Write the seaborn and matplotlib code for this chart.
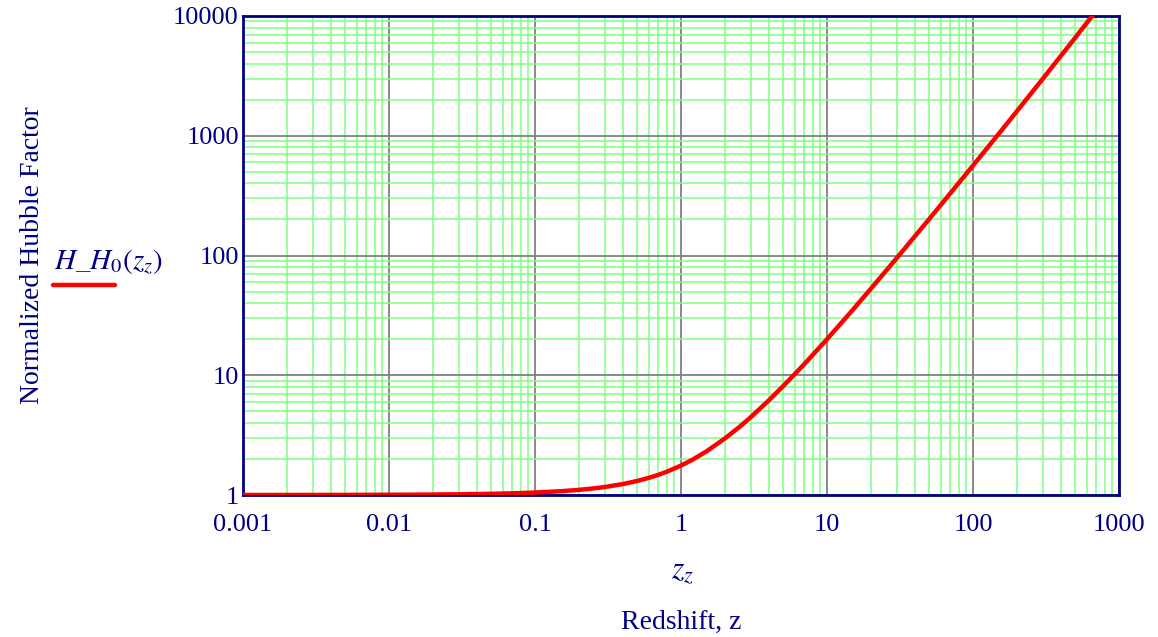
import numpy as np
import pandas as pd
import matplotlib
matplotlib.use("Agg")
import matplotlib.pyplot as plt
import matplotlib.ticker as mticker
from matplotlib.lines import Line2D
import seaborn as sns

# Data (redshift z vs normalized Hubble factor H/H0)
z_vals = [0.001, 0.002, 0.003, 0.005, 0.007, 0.01, 0.015, 0.02, 0.03, 0.05, 0.07,
          0.1, 0.15, 0.2, 0.25, 0.3, 0.4, 0.5, 0.6, 0.7, 0.8, 1.0, 1.2, 1.5, 2.0,
          2.5, 3.0, 4.0, 5.0, 6.0, 7.0, 8.0, 10.0, 15.0, 20.0, 30.0, 50.0, 70.0,
          100.0, 150.0, 200.0, 300.0, 500.0, 700.0]
h_vals = [1.00045, 1.0009, 1.00135, 1.00225, 1.00315, 1.0045, 1.0068, 1.0091,
          1.0137, 1.0231, 1.0327, 1.0485, 1.0752, 1.104, 1.134, 1.166, 1.234,
          1.309, 1.389, 1.474, 1.565, 1.761, 1.973, 2.32, 2.97, 3.68, 4.46, 6.18,
          8.10, 10.19, 12.43, 14.83, 20.0, 35.1, 52.9, 95.0, 200.9, 331.0, 564.0,
          1037.0, 1604.0, 2979.0, 6560.0, 11100.0]
x_ticks = [0.001, 0.01, 0.1, 1, 10, 100, 1000]
x_tick_labels = ["0.001", "0.01", "0.1", "1", "10", "100", "1000"]
y_ticks = [1, 10, 100, 1000, 10000]
y_tick_labels = ["1", "10", "100", "1000", "10000"]

df = pd.DataFrame({"z": z_vals, "H": h_vals})

sns.set_style("white")
plt.rcParams["font.family"] = ["Liberation Serif", "DejaVu Serif"]
plt.rcParams["mathtext.fontset"] = "stix"

navy = "#000080"
fig = plt.figure(figsize=(11.58, 6.37), dpi=100)
ax = fig.add_axes([243 / 1158, 1 - 495 / 637, (1119 - 243) / 1158, (495 - 16) / 637])

sns.lineplot(data=df, x="z", y="H", ax=ax, color="#ff0000", linewidth=3.2, zorder=5)

ax.set_xscale("log")
ax.set_yscale("log")
ax.set_xlim(0.001, 1000)
ax.set_ylim(1, 10000)

ax.xaxis.set_major_locator(mticker.FixedLocator(x_ticks))
ax.xaxis.set_major_formatter(mticker.FixedFormatter(x_tick_labels))
ax.yaxis.set_major_locator(mticker.FixedLocator(y_ticks))
ax.yaxis.set_major_formatter(mticker.FixedFormatter(y_tick_labels))
ax.xaxis.set_minor_locator(mticker.LogLocator(base=10, subs=np.arange(2, 10), numticks=100))
ax.yaxis.set_minor_locator(mticker.LogLocator(base=10, subs=np.arange(2, 10), numticks=100))
ax.xaxis.set_minor_formatter(mticker.NullFormatter())
ax.yaxis.set_minor_formatter(mticker.NullFormatter())

ax.grid(which="minor", color="#80ff80", linewidth=1.1, zorder=1)
ax.grid(which="major", color="#808080", linewidth=1.3, zorder=2)
ax.set_axisbelow(True)

ax.tick_params(which="both", length=0, colors=navy, labelsize=19)
ax.tick_params(axis="x", pad=14)
ax.tick_params(axis="y", pad=3)
for lab in ax.get_xticklabels() + ax.get_yticklabels():
    lab.set_color(navy)

for sp in ax.spines.values():
    sp.set_color(navy)
    sp.set_linewidth(2)
    sp.set_visible(True)

ax.set_xlabel("")
ax.set_ylabel("")

# Axis titles (Mathcad style)
fig.text(33 / 1158, 1 - 255 / 637, "Normalized Hubble Factor", rotation=90,
         ha="center", va="center", color=navy, fontsize=20)
fig.text(683 / 1158, 1 - 572 / 637, r"$z_z$", ha="center", va="center",
         color=navy, fontsize=23)
fig.text(681 / 1158, 1 - 622 / 637, "Redshift, z", ha="center", va="center",
         color=navy, fontsize=20)

# Legend-like label
fig.text(108 / 1158, 1 - 262 / 637, r"$H\_H_{\mathit{0}}\left(z_z\right)$", ha="center",
         va="center", color=navy, fontsize=21)
fig.add_artist(Line2D([53 / 1158, 115 / 1158], [1 - 285 / 637, 1 - 285 / 637],
                      color="#ff0000", linewidth=3.2, transform=fig.transFigure))

fig.savefig("out.png", dpi=100)
